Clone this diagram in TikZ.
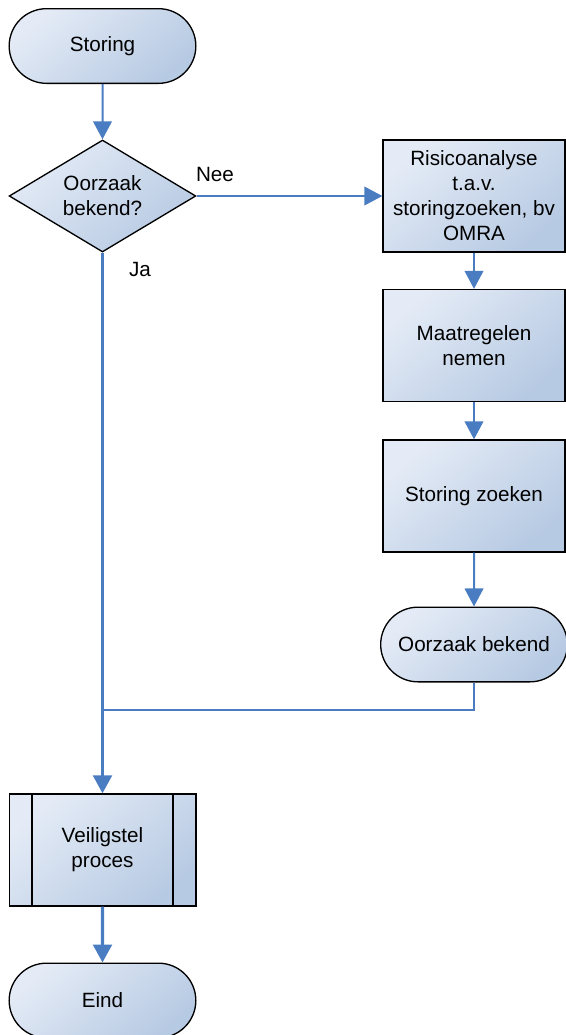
\documentclass[tikz,border=0pt]{standalone}
\usepackage{fontspec}
\setmainfont{Liberation Sans}
\usetikzlibrary{shapes.geometric,shapes.misc,arrows.meta}
\definecolor{gLight}{HTML}{E4EBF6}
\definecolor{gDark}{HTML}{B7CAE3}
\definecolor{lineBlue}{HTML}{4A7CC2}
\tikzset{
  base/.style={draw=black, line width=1pt, top color=gLight, bottom color=gDark, shading angle=40,
    font=\fontsize{15.5}{18.7}\selectfont, align=center, inner sep=0pt},
  term/.style={base, rounded rectangle, minimum width=140pt, minimum height=56pt},
  decide/.style={base, diamond, shape aspect=1.67, minimum width=140pt, minimum height=84pt},
  proc/.style={base, rectangle, minimum width=136.5pt, minimum height=84pt},
  conn/.style={draw=lineBlue, line width=1.5pt, -{Triangle[width=14pt,length=13.5pt]}},
  plain/.style={draw=lineBlue, line width=2.1pt},
  lbl/.style={font=\fontsize{15.5}{18.7}\selectfont, inner sep=0pt}
}
\begin{document}
\begin{tikzpicture}[x=0.75pt, y=-0.75pt]
\useasboundingbox (0,0) rectangle (566,1035);
\begin{scope}
\clip (0,0) rectangle (566,1035);
\node[term] (start) at (102.5,46) {Storing};
\node[decide] (dec) at (102.5,196) {Oorzaak\\bekend?};
\node[proc] (risk) at (474,196) {Risicoanalyse\\t.a.v.\\storingzoeken, bv\\OMRA};
\node[proc] (maat) at (474,345.5) {Maatregelen\\nemen};
\node[proc] (zoek) at (474,496) {Storing zoeken};
\node[term] (found) at (474,644.5) {Oorzaak bekend};
\node[proc, minimum width=140pt] (veil) at (102.5,850) {Veiligstel\\proces};
\draw[line width=1pt] (32,794) -- (32,906) (173,794) -- (173,906);
\node[term] (end) at (102.5,1000.5) {Eind};
\coordinate (join) at (102.5,710);

\draw[conn] (start) -- (dec);
\draw[conn] (dec) -- (risk);
\draw[conn] (risk) -- (maat);
\draw[conn] (maat) -- (zoek);
\draw[conn] (zoek) -- (found);
\draw[conn, line width=2.4pt] (dec.south) -- (veil.north);
\draw[plain] (found.south) |- (join);
\draw[conn, line width=2.6pt] (veil) -- (end);

\node[lbl] (nee) at (215,174) {Nee};
\node[lbl] (ja) at (140,269) {Ja};
\end{scope}
\end{tikzpicture}
\end{document}
